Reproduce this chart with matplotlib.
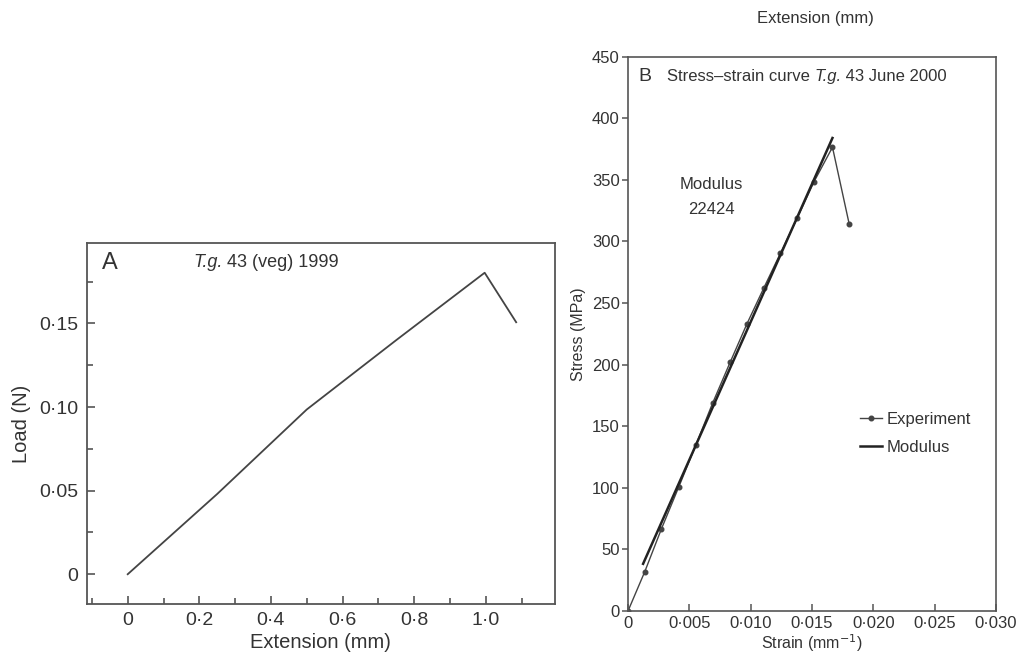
import numpy as np
import matplotlib
matplotlib.use("Agg")
import matplotlib.pyplot as plt
from matplotlib.ticker import FuncFormatter, MultipleLocator

plt.rcParams["font.family"] = ["Liberation Sans", "DejaVu Sans"]

# panel A: load vs extension
ext_a = [0, 0.25, 0.5, 0.75, 0.997, 1.085]
load_a = [0, 0.048, 0.0985, 0.140, 0.1803, 0.1507]

# panel B: stress-strain experiment
strain_b = [0, 0.00137, 0.00273, 0.00415, 0.00552, 0.0069, 0.00833,
            0.0097, 0.01107, 0.01243, 0.0138, 0.01516, 0.01667, 0.01803]
stress_b = [0, 32, 66.8, 101, 134.5, 168.8, 202,
            233.2, 262.2, 290.5, 319, 348.4, 376.5, 314.3]
# modulus fit line
mod_x = [0.00123, 0.01667]
mod_y = [38.3, 384.0]

txt = "#333333"
spc = "#555555"

def dotfmt(nd):
    def f(v, pos):
        if abs(v) < 1e-12:
            return "0"
        return ("%." + str(nd) + "f") % v
    return FuncFormatter(lambda v, p: f(v, p).replace(".", "\u00b7"))

def mixed_title(ax, x, y, parts, fs):
    # parts: list of (string, style) drawn one after the other
    prev = None
    for s, st in parts:
        if prev is None:
            prev = ax.text(x, y, s, transform=ax.transAxes, fontsize=fs,
                           color=txt, style=st, ha="left", va="center")
        else:
            prev = ax.annotate(s, xy=(1, 0.5), xycoords=prev, fontsize=fs,
                               color=txt, style=st, ha="left", va="center")

fig = plt.figure(figsize=(10.19, 6.56), dpi=100)

# ---- A
ax = fig.add_axes([0.0851, 0.0793, 0.4596, 0.5503])
ax.plot(ext_a, load_a, color="#444444", lw=1.3)
ax.set_xlim(-0.1145, 1.1936)
ax.set_ylim(-0.0178, 0.1981)
ax.xaxis.set_major_locator(MultipleLocator(0.2))
ax.xaxis.set_minor_locator(MultipleLocator(0.1))
ax.yaxis.set_major_locator(MultipleLocator(0.05))
ax.yaxis.set_minor_locator(MultipleLocator(0.025))
ax.xaxis.set_major_formatter(dotfmt(1))
ax.yaxis.set_major_formatter(dotfmt(2))
ax.tick_params(axis="both", which="both", direction="in", colors=spc,
               labelcolor=txt, labelsize=14, width=1.2)
ax.tick_params(which="major", length=6, pad=6)
ax.tick_params(which="minor", length=4)
for s in ax.spines.values():
    s.set_color(spc)
    s.set_linewidth(1.3)
ax.set_xlabel("Extension (mm)", fontsize=14.5, color=txt, labelpad=3)
ax.set_ylabel("Load (N)", fontsize=14.5, color=txt, labelpad=6)
ax.text(0.05, 0.945, "A", transform=ax.transAxes, fontsize=17, color=txt,
        ha="center", va="center")
mixed_title(ax, 0.227, 0.945, [("T.g.", "italic"), (" 43 (veg) 1999", "normal")], 13)

# ---- B
bx = fig.add_axes([0.6163, 0.0686, 0.3611, 0.845])
bx.plot(strain_b, stress_b, color="#444444", lw=1.0, marker="o", ms=3.3,
        label="Experiment")
bx.plot(mod_x, mod_y, color="#222222", lw=1.8, label="Modulus")
bx.set_xlim(0, 0.030)
bx.set_ylim(0, 450)
bx.xaxis.set_major_locator(MultipleLocator(0.005))
bx.yaxis.set_major_locator(MultipleLocator(50))
bx.xaxis.set_major_formatter(dotfmt(3))
bx.tick_params(axis="x", direction="in", length=5)
bx.tick_params(axis="y", direction="out", length=4, pad=2)
bx.tick_params(axis="both", colors=spc, labelcolor=txt, labelsize=12,
               width=1.1)
for s in bx.spines.values():
    s.set_color(spc)
    s.set_linewidth(1.2)
bx.set_xlabel("Strain (mm$^{-1}$)", fontsize=11.5, color=txt, labelpad=1)
bx.set_ylabel("Stress (MPa)", fontsize=11.5, color=txt, labelpad=4)
bx.text(0.047, 0.965, "B", transform=bx.transAxes, fontsize=14, color=txt,
        ha="center", va="center")
mixed_title(bx, 0.105, 0.965, [("Stress–strain curve ", "normal"),
                               ("T.g.", "italic"), (" 43 June 2000", "normal")], 12)
bx.text(0.0068, 336, "Modulus\n22424", fontsize=12, color=txt,
        ha="center", va="center", multialignment="center", linespacing=1.8)
leg = bx.legend(loc="upper left", bbox_to_anchor=(0.59, 0.386), frameon=False,
                fontsize=12, handlelength=1.3, handletextpad=0.3,
                labelspacing=0.75)
for t in leg.get_texts():
    t.set_color(txt)

fig.text(815 / 1019, 1 - 18 / 656, "Extension (mm)", fontsize=12,
         color=txt, ha="center", va="center")

fig.savefig("out.png", dpi=100)
